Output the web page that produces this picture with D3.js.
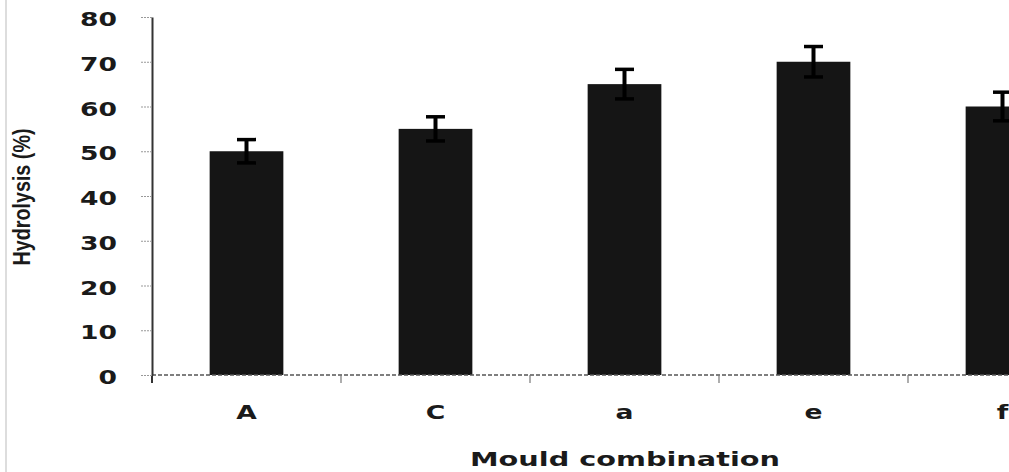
<!DOCTYPE html>
<meta charset="utf-8">
<style>
  body { margin: 0; background: #fff; }
  svg { display: block; }
  .tick text, .label { font-family: "DejaVu Sans", sans-serif; font-weight: bold; fill: #1a1a1a; }
</style>
<body>
<svg width="1009" height="472"></svg>
<script src="https://d3js.org/d3.v7.min.js"></script>
<script>
  // data
  var categories = ["A", "C", "a", "e", "f"];
  var hydrolysis = [50, 55, 65, 70, 60];
  var errors = [2.6, 2.7, 3.3, 3.4, 3.2];
  var yTicks = [0, 10, 20, 30, 40, 50, 60, 70, 80];

  var svg = d3.select("svg");
  var plotLeft = 152, plotTop = 17, plotBottom = 375;
  var stretch = 1.4; // the original font is very wide

  var x = d3.scaleBand().domain(categories).range([plotLeft, plotLeft + 189 * categories.length]);
  var y = d3.scaleLinear().domain([0, 80]).range([plotBottom, plotTop]);
  var barW = x.bandwidth() * 0.39;

  // thin frame line on the left
  svg.append("line")
    .attr("x1", 6).attr("x2", 6).attr("y1", 0).attr("y2", 472)
    .attr("stroke", "#bbb").attr("stroke-width", 1);

  /* Bars */
  svg.append("g").selectAll("rect")
    .data(hydrolysis)
    .enter().append("rect")
      .attr("x", function(d, i) { return x(categories[i]) + (x.bandwidth() - barW) / 2; })
      .attr("y", function(d) { return y(d); })
      .attr("width", barW)
      .attr("height", function(d) { return plotBottom - y(d); })
      .attr("fill", "#151515");

  /* Error bars */
  var err = svg.append("g").attr("stroke", "#000");
  hydrolysis.forEach(function(d, i) {
    var cx = x(categories[i]) + x.bandwidth() / 2;
    err.append("line")
      .attr("x1", cx).attr("x2", cx)
      .attr("y1", y(d + errors[i])).attr("y2", y(d - errors[i]))
      .attr("stroke-width", 4);
    [d + errors[i], d - errors[i]].forEach(function(v) {
      err.append("line")
        .attr("x1", cx - 9.5).attr("x2", cx + 9.5)
        .attr("y1", y(v)).attr("y2", y(v))
        .attr("stroke-width", 3.5);
    });
  });

  /* X axis: dashed baseline, ticks at category boundaries */
  svg.append("line")
    .attr("x1", plotLeft).attr("x2", 1009).attr("y1", plotBottom).attr("y2", plotBottom)
    .attr("stroke", "#555").attr("stroke-width", 1.5).attr("stroke-dasharray", "4,2");
  svg.append("g").selectAll("line")
    .data(categories)
    .enter().append("line")
      .attr("x1", function(d) { return x(d); })
      .attr("x2", function(d) { return x(d); })
      .attr("y1", plotBottom).attr("y2", plotBottom + 8)
      .attr("stroke", function(d, i) { return i === 0 ? "#333" : "#777"; })
      .attr("stroke-width", function(d, i) { return i === 0 ? 2 : 1.2; });

  var xAxis = svg.append("g")
    .attr("transform", "translate(0," + plotBottom + ")")
    .call(d3.axisBottom(x).tickSize(0).tickPadding(0));
  xAxis.select(".domain").remove();
  xAxis.selectAll("text")
    .attr("y", 31)
    .attr("dy", "0.71em")
    .style("font-size", "19px")
    .attr("transform", "scale(" + stretch + ",1)");

  /* Y axis */
  var yAxis = svg.append("g")
    .attr("transform", "translate(" + plotLeft + ",0)")
    .call(d3.axisLeft(y).tickValues(yTicks).tickSize(11).tickSizeOuter(0));
  yAxis.select(".domain").attr("stroke", "#333").attr("stroke-width", 2);
  yAxis.selectAll(".tick line").attr("stroke", "#999").attr("stroke-dasharray", "2,1");
  yAxis.selectAll("text")
    .attr("x", -35 / stretch)
    .attr("dy", "0.45em")
    .style("font-size", "19px")
    .attr("transform", "scale(" + stretch + ",1)");

  /* Axis titles */
  svg.append("text")
    .attr("class", "label")
    .attr("x", 625).attr("y", 466)
    .attr("text-anchor", "middle")
    .attr("textLength", 310).attr("lengthAdjust", "spacingAndGlyphs")
    .style("font-size", "20px")
    .text("Mould combination");

  svg.append("text")
    .attr("class", "label")
    .attr("transform", "translate(30,197) rotate(-90)")
    .attr("text-anchor", "middle")
    .attr("textLength", 137).attr("lengthAdjust", "spacingAndGlyphs")
    .style("font-family", "'Liberation Sans', sans-serif")
    .style("font-size", "24px")
    .text("Hydrolysis (%)");
</script>
</body>
